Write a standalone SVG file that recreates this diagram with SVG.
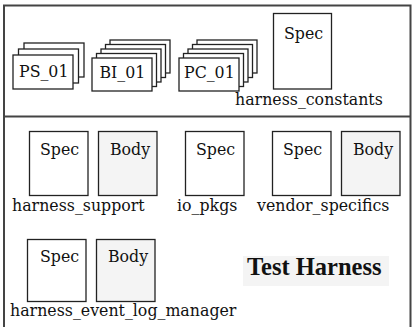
<svg xmlns="http://www.w3.org/2000/svg" width="412" height="327" viewBox="0 0 412 327">
<style>
.frame{fill:none;stroke:#444;stroke-width:2}
.box{fill:#fff;stroke:#222;stroke-width:1.3}
.body{fill:#f4f4f4;stroke:#222;stroke-width:1.3}
.t{font-family:"DejaVu Serif","Liberation Serif",serif;font-size:15.8px;fill:#111}
.title{font-family:"Liberation Serif",serif;font-size:24.5px;font-weight:bold;fill:#111}
</style>
<rect width="412" height="327" fill="#fff"/>
<g id="frame">
<path class="frame" d="M4,327 V5.5 H410.5 V327"/>
<path class="frame" d="M4,116.5 H410.5"/>
</g>
<g id="PS_01">
<rect class="box" x="24" y="43" width="60" height="34"/>
<rect class="box" x="18.5" y="49" width="60" height="34"/>
<rect class="box" x="13" y="55" width="60" height="34"/>
<text class="t" x="19" y="77">PS_01</text>
</g>
<g id="BI_01">
<rect class="box" x="110" y="40" width="60" height="33"/>
<rect class="box" x="105.5" y="44.5" width="60" height="33"/>
<rect class="box" x="101" y="49" width="60" height="33"/>
<rect class="box" x="96.5" y="53.5" width="60" height="33"/>
<rect class="box" x="92" y="58" width="60" height="33"/>
<text class="t" x="99.5" y="78">BI_01</text>
</g>
<g id="PC_01">
<rect class="box" x="197" y="40" width="60" height="33"/>
<rect class="box" x="192.5" y="44.5" width="60" height="33"/>
<rect class="box" x="188" y="49" width="60" height="33"/>
<rect class="box" x="183.5" y="53.5" width="60" height="33"/>
<rect class="box" x="179" y="58" width="60" height="33"/>
<text class="t" x="184" y="78">PC_01</text>
</g>
<g id="harness_constants">
<rect class="box" x="273.5" y="13.5" width="58" height="75.5"/>
<text class="t" x="284" y="39">Spec</text>
<text class="t" x="235" y="105">harness_constants</text>
</g>
<g id="harness_support">
<rect class="box" x="29.5" y="131.5" width="58.5" height="64"/>
<text class="t" x="40" y="155">Spec</text>
<rect class="body" x="98.5" y="131.5" width="58.5" height="64"/>
<text class="t" x="110" y="155">Body</text>
<text class="t" x="12" y="211">harness_support</text>
</g>
<g id="io_pkgs">
<rect class="box" x="185.5" y="131.5" width="58.5" height="64"/>
<text class="t" x="196" y="155">Spec</text>
<text class="t" x="177" y="211">io_pkgs</text>
</g>
<g id="vendor_specifics">
<rect class="box" x="272.5" y="131.5" width="58.5" height="64"/>
<text class="t" x="283" y="155">Spec</text>
<rect class="body" x="341.5" y="131.5" width="58.5" height="64"/>
<text class="t" x="353" y="155">Body</text>
<text class="t" x="257" y="211">vendor_specifics</text>
</g>
<g id="harness_event_log_manager">
<rect class="box" x="27.5" y="239.5" width="58.5" height="62"/>
<text class="t" x="40" y="262">Spec</text>
<rect class="body" x="96.5" y="239.5" width="58.5" height="62"/>
<text class="t" x="108" y="262">Body</text>
<text class="t" x="10" y="316">harness_event_log_manager</text>
</g>
<g id="title">
<rect x="243" y="256" width="146" height="30" fill="#f4f4f4"/>
<text class="title" x="247" y="275">Test Harness</text>
</g>
</svg>
